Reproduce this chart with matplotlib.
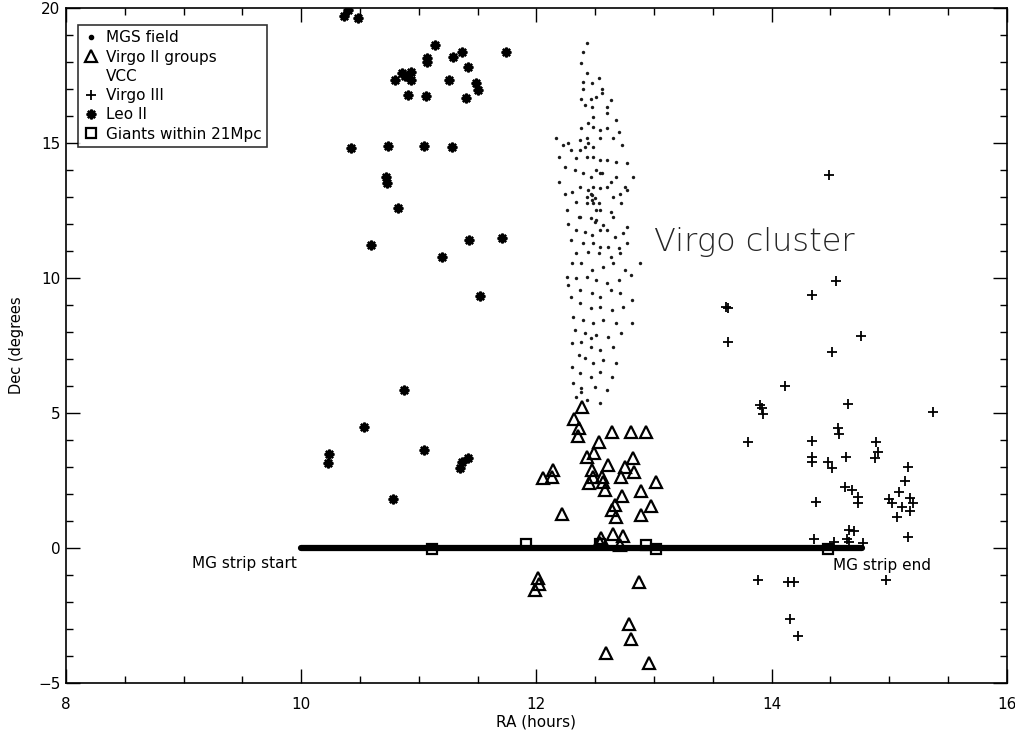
import matplotlib
matplotlib.use("Agg")
import matplotlib.pyplot as plt
from matplotlib.lines import Line2D
from matplotlib.ticker import MultipleLocator

# MGS strip along Dec = 0 (start / end RA)
mgs_ra = [10.0, 14.77]
mgs_dec = [0.0, 0.0]

# Virgo II groups
virgo2_ra = [12.39, 12.32, 12.36, 12.35, 12.64, 12.80, 12.93, 12.53, 12.49, 12.43,
             12.82, 12.61, 12.75, 12.83, 12.47, 12.56, 12.57, 12.58, 12.48, 12.45,
             12.72, 13.02, 12.89, 12.73, 12.14, 12.13, 12.06, 12.67, 12.97, 12.64,
             12.68, 12.89, 12.22, 12.55, 12.65, 12.74, 12.71, 12.54, 12.01, 12.02,
             11.99, 12.87, 12.79, 12.80, 12.59, 12.96]
virgo2_dec = [5.22, 4.78, 4.44, 4.15, 4.30, 4.30, 4.30, 3.93, 3.52, 3.37,
              3.33, 3.07, 3.00, 2.81, 2.89, 2.63, 2.44, 2.15, 2.63, 2.41,
              2.63, 2.44, 2.11, 1.93, 2.89, 2.63, 2.59, 1.59, 1.56, 1.41,
              1.15, 1.22, 1.26, 0.37, 0.52, 0.44, 0.11, 0.20, -1.11, -1.33,
              -1.56, -1.26, -2.81, -3.37, -3.89, -4.26]

# VCC galaxies
vcc_ra = [12.43, 12.40, 12.38, 12.43, 12.53, 12.40, 12.47, 12.56, 12.40, 12.46,
          12.38, 12.51, 12.63, 12.56, 12.60, 12.41, 12.47, 12.60, 12.48, 12.68,
          12.44, 12.38, 12.54, 12.60, 12.48, 12.17, 12.23, 12.27, 12.37, 12.43,
          12.44, 12.41, 12.37, 12.48, 12.54, 12.65, 12.70, 12.73, 12.29, 12.19,
          12.34, 12.43, 12.48, 12.54, 12.60, 12.68, 12.77, 12.24, 12.33, 12.40,
          12.46, 12.51, 12.56, 12.63, 12.68, 12.75, 12.82, 12.19, 12.24, 12.30,
          12.37, 12.44, 12.47, 12.50, 12.54, 12.60, 12.65, 12.71, 12.77, 12.34,
          12.43, 12.48, 12.54, 12.63, 12.72, 12.26, 12.37, 12.46, 12.51, 12.57,
          12.65, 12.77, 12.27, 12.34, 12.41, 12.47, 12.54, 12.60, 12.67, 12.74,
          12.29, 12.40, 12.48, 12.54, 12.61, 12.70, 12.77, 12.88, 12.34, 12.44,
          12.53, 12.63, 12.71, 12.30, 12.38, 12.47, 12.57, 12.65, 12.75, 12.26,
          12.34, 12.43, 12.51, 12.60, 12.70, 12.80, 12.27, 12.37, 12.47, 12.54,
          12.63, 12.71, 12.81, 12.29, 12.37, 12.46, 12.54, 12.64, 12.74, 12.31,
          12.40, 12.48, 12.57, 12.68, 12.81, 12.33, 12.41, 12.51, 12.61, 12.72,
          12.30, 12.38, 12.46, 12.54, 12.65, 12.36, 12.41, 12.48, 12.57, 12.68,
          12.30, 12.37, 12.46, 12.54, 12.64, 12.31, 12.38, 12.50, 12.60, 12.34,
          12.43, 12.54, 12.46, 12.47, 12.51, 12.50, 12.54, 12.36, 12.46, 12.38,
          12.43, 12.53, 12.48]
vcc_dec = [18.69, 18.38, 17.95, 17.58, 17.40, 17.27, 17.21, 17.02, 17.02, 16.65,
           16.65, 16.72, 16.59, 16.84, 16.35, 16.41, 16.35, 16.10, 15.98, 15.85,
           15.73, 15.54, 15.48, 15.54, 15.60, 15.17, 14.93, 14.99, 15.11, 15.17,
           14.99, 14.86, 14.74, 14.86, 15.17, 15.17, 15.42, 14.93, 14.74, 14.49,
           14.43, 14.49, 14.49, 14.37, 14.37, 14.31, 14.25, 14.12, 14.00, 13.88,
           13.75, 14.00, 13.88, 13.57, 13.75, 13.38, 13.75, 13.57, 13.13, 13.20,
           13.38, 13.26, 13.07, 12.95, 13.32, 13.38, 13.01, 13.13, 13.26, 12.83,
           12.77, 12.77, 12.52, 12.46, 12.77, 12.52, 12.27, 12.21, 12.15, 11.96,
           12.27, 11.90, 12.02, 11.78, 11.72, 11.59, 11.78, 11.78, 11.53, 11.65,
           11.41, 11.28, 11.28, 11.16, 11.16, 11.10, 11.28, 10.54, 10.91, 10.98,
           10.91, 10.79, 10.91, 10.54, 10.54, 10.30, 10.42, 10.54, 10.30, 10.05,
           9.99, 10.05, 9.93, 9.80, 9.93, 10.11, 9.74, 9.56, 9.43, 9.31,
           9.56, 9.43, 9.19, 9.31, 9.06, 8.88, 8.94, 8.81, 8.94, 8.57,
           8.44, 8.32, 8.44, 8.32, 8.32, 8.07, 7.95, 7.89, 7.83, 7.95,
           7.58, 7.64, 7.46, 7.33, 7.46, 7.15, 7.02, 6.84, 6.96, 6.84,
           6.72, 6.47, 6.35, 6.53, 6.35, 6.10, 5.91, 5.98, 5.85, 5.60,
           5.48, 5.36, 13.13, 12.89, 12.52, 12.09, 13.88, 12.27, 7.77, 5.79,
           13.01, 12.77, 13.38]

# Virgo III
virgo3_ra = [14.49, 14.55, 14.34, 13.61, 13.63, 14.76, 13.63, 14.51, 14.11, 14.65,
             13.90, 13.92, 13.93, 15.37, 14.56, 14.57, 13.80, 14.34, 14.89, 14.90,
             14.88, 14.34, 14.34, 14.48, 14.51, 14.63, 15.16, 15.13, 15.08, 14.62,
             14.68, 14.73, 14.73, 15.00, 15.02, 15.11, 15.18, 15.20, 15.18, 15.07,
             14.38, 15.16, 14.36, 14.53, 14.64, 14.66, 14.70, 14.66, 14.78, 13.88,
             14.14, 14.19, 14.97, 14.16, 14.22]
virgo3_dec = [13.81, 9.89, 9.37, 8.93, 8.90, 7.85, 7.63, 7.26, 6.00, 5.33,
              5.30, 5.19, 4.96, 5.04, 4.44, 4.22, 3.93, 3.96, 3.93, 3.56,
              3.33, 3.37, 3.19, 3.19, 2.96, 3.37, 3.00, 2.48, 2.07, 2.26,
              2.15, 1.89, 1.67, 1.81, 1.67, 1.52, 1.85, 1.67, 1.37, 1.15,
              1.70, 0.41, 0.33, 0.22, 0.33, 0.67, 0.63, 0.22, 0.19, -1.19,
              -1.26, -1.26, -1.19, -2.63, -3.26]

# Leo II
leo2_ra = [10.36, 10.40, 10.48, 11.14, 11.07, 11.07, 11.29, 11.37, 11.42, 11.74,
           10.86, 10.93, 10.93, 10.88, 10.80, 10.91, 11.06, 11.26, 11.49, 11.50,
           11.40, 10.42, 10.74, 11.04, 11.28, 10.72, 10.73, 10.82, 10.59, 11.43,
           11.71, 11.20, 11.52, 10.87, 10.53, 10.24, 10.23, 11.04, 11.42, 11.37,
           11.35, 10.78]
leo2_dec = [19.70, 19.93, 19.63, 18.63, 18.15, 18.00, 18.19, 18.37, 17.82, 18.37,
            17.59, 17.63, 17.33, 17.50, 17.33, 16.78, 16.74, 17.33, 17.22, 16.96,
            16.67, 14.81, 14.89, 14.89, 14.85, 13.74, 13.52, 12.59, 11.22, 11.41,
            11.48, 10.78, 9.33, 5.85, 4.48, 3.48, 3.15, 3.63, 3.33, 3.19,
            2.96, 1.81]

# giants within 21 Mpc
giants_ra = [11.11, 11.91, 12.54, 12.93, 13.02, 14.48]
giants_dec = [-0.05, 0.15, 0.15, 0.10, -0.05, -0.05]

asterisk = (8, 2, 0)

fig = plt.figure(figsize=(10.15, 7.34), dpi=100)
ax = fig.add_axes([0.065, 0.0695, 0.927, 0.9195])

ax.plot(mgs_ra, mgs_dec, color="black", lw=4.5, solid_capstyle="round", zorder=2)
ax.scatter(vcc_ra, vcc_dec, s=6, color="0.1", linewidths=0, zorder=2)
ax.plot(virgo2_ra, virgo2_dec, ls="none", marker="^", ms=8, mfc="none",
        mec="black", mew=1.6, zorder=3)
ax.plot(virgo3_ra, virgo3_dec, ls="none", marker="+", ms=6.5, mec="black",
        mew=1.3, zorder=3)
ax.plot(leo2_ra, leo2_dec, ls="none", marker=asterisk, ms=7, mec="black",
        mew=1.7, zorder=3)
ax.plot(giants_ra, giants_dec, ls="none", marker="s", ms=7, mfc="none",
        mec="black", mew=1.6, zorder=4)

ax.text(9.96, -0.58, "MG strip start", ha="right", va="center", fontsize=11)
ax.text(14.52, -0.63, "MG strip end", ha="left", va="center", fontsize=11)
ax.text(13.0, 11.35, "Virgo cluster", ha="left", va="center", fontsize=23,
        fontweight="light", color="0.15")

ax.set_xlim(8, 16)
ax.set_ylim(-5, 20)
ax.set_xticks([8, 10, 12, 14, 16])
ax.set_yticks([-5, 0, 5, 10, 15, 20])
ax.xaxis.set_minor_locator(MultipleLocator(0.5))
ax.yaxis.set_minor_locator(MultipleLocator(1))
ax.tick_params(which="both", direction="in", top=True, right=True, width=1,
               labelsize=11, colors="black")
ax.tick_params(which="major", length=10)
ax.tick_params(which="minor", length=5)
ax.tick_params(axis="x", pad=10)
ax.tick_params(axis="y", pad=4)
for sp in ax.spines.values():
    sp.set_linewidth(1.2)

ax.set_xlabel("RA (hours)", fontsize=11, labelpad=2)
ax.set_ylabel("Dec (degrees", fontsize=10.5, labelpad=10)

handles = [
    Line2D([], [], ls="none", marker="o", ms=3, color="black"),
    Line2D([], [], ls="none", marker="^", ms=8, mfc="none", mec="black", mew=1.6),
    Line2D([], [], ls="none", marker=None),
    Line2D([], [], ls="none", marker="+", ms=6.5, mec="black", mew=1.3),
    Line2D([], [], ls="none", marker=asterisk, ms=7, mec="black", mew=1.7),
    Line2D([], [], ls="none", marker="s", ms=7, mfc="none", mec="black", mew=1.6),
]
labels = ["MGS field", "Virgo II groups", "VCC", "Virgo III", "Leo II",
          "Giants within 21Mpc"]
leg = ax.legend(handles, labels, loc="upper left", bbox_to_anchor=(0.0128, 0.975),
                borderaxespad=0, fontsize=11, frameon=True, fancybox=False,
                edgecolor="black", handlelength=1.0, handletextpad=0.5,
                borderpad=0.35, labelspacing=0.28)
leg.get_frame().set_linewidth(1.2)

fig.savefig("out.png", dpi=100)
